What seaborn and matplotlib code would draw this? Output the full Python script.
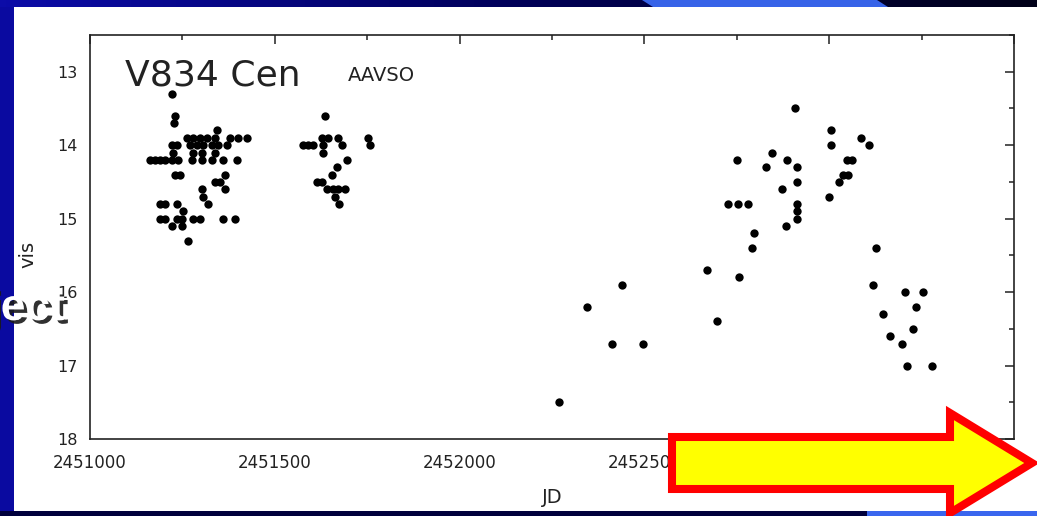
import numpy as np
import pandas as pd
import matplotlib
matplotlib.use("Agg")
import matplotlib.pyplot as plt
import matplotlib.patheffects as pe
from matplotlib import font_manager
from matplotlib.patches import Rectangle, Polygon
from matplotlib.colors import LinearSegmentedColormap
from matplotlib.ticker import MultipleLocator
import seaborn as sns

# ---- AAVSO visual estimates of V834 Cen, grouped by observing season ----
jd_s1 = [2451221, 2451230, 2451228, 2451343,
         2451262, 2451280, 2451298, 2451316, 2451338, 2451379, 2451401, 2451424,
         2451221, 2451235, 2451271, 2451289, 2451307, 2451329, 2451347, 2451370,
         2451225, 2451280, 2451302, 2451338,
         2451162, 2451176, 2451189, 2451203, 2451221, 2451239, 2451275, 2451302,
         2451329, 2451361, 2451397,
         2451230, 2451244, 2451365,
         2451338, 2451352,
         2451302, 2451365,
         2451307,
         2451189, 2451203, 2451235, 2451320,
         2451252,
         2451189, 2451203, 2451235, 2451248, 2451280, 2451298, 2451361, 2451392,
         2451221, 2451248,
         2451266]
vis_s1 = [13.3, 13.6, 13.7, 13.8,
          13.9, 13.9, 13.9, 13.9, 13.9, 13.9, 13.9, 13.9,
          14.0, 14.0, 14.0, 14.0, 14.0, 14.0, 14.0, 14.0,
          14.1, 14.1, 14.1, 14.1,
          14.2, 14.2, 14.2, 14.2, 14.2, 14.2, 14.2, 14.2,
          14.2, 14.2, 14.2,
          14.4, 14.4, 14.4,
          14.5, 14.5,
          14.6, 14.6,
          14.7,
          14.8, 14.8, 14.8, 14.8,
          14.9,
          15.0, 15.0, 15.0, 15.0, 15.0, 15.0, 15.0, 15.0,
          15.1, 15.1,
          15.3]

jd_s2 = [2451636,
         2451627, 2451645, 2451672, 2451753,
         2451577, 2451591, 2451604, 2451631, 2451681, 2451758,
         2451631, 2451694, 2451667, 2451654,
         2451613, 2451627,
         2451640, 2451658, 2451672, 2451690,
         2451663, 2451674]
vis_s2 = [13.6,
          13.9, 13.9, 13.9, 13.9,
          14.0, 14.0, 14.0, 14.0, 14.0, 14.0,
          14.1, 14.2, 14.3, 14.4,
          14.5, 14.5,
          14.6, 14.6, 14.6, 14.6,
          14.7, 14.8]

jd_s3 = [2452268, 2452346, 2452412, 2452439, 2452495]
vis_s3 = [17.5, 16.2, 16.7, 15.9, 16.7]

jd_s4 = [2452907, 2452844, 2452750, 2452887, 2452828, 2452912, 2452912, 2452873,
         2452727, 2452754, 2452781, 2452912, 2452912, 2452912, 2452883, 2452797,
         2452790, 2452670, 2452756, 2452696]
vis_s4 = [13.5, 14.1, 14.2, 14.2, 14.3, 14.3, 14.5, 14.6,
          14.8, 14.8, 14.8, 14.8, 14.9, 15.0, 15.1, 15.2,
          15.4, 15.7, 15.8, 16.4]

jd_s5 = [2453004, 2453004, 2453086, 2453108, 2453049, 2453061, 2453038, 2453052,
         2453027, 2452999, 2453127, 2453118, 2453205, 2453255, 2453235, 2453145,
         2453226, 2453164, 2453198, 2453211, 2453277]
vis_s5 = [13.8, 14.0, 13.9, 14.0, 14.2, 14.2, 14.4, 14.4,
          14.5, 14.7, 15.4, 15.9, 16.0, 16.0, 16.2, 16.3,
          16.5, 16.6, 16.7, 17.0, 17.0]

jd_ticks = [2451000, 2451500, 2452000, 2452500, 2453000, 2453500]
jd_tick_labels = ["2451000", "2451500", "2452000", "2452500", "2453000", ""]
vis_ticks = [13, 14, 15, 16, 17, 18]
vis_tick_labels = ["13", "14", "15", "16", "17", "18"]

df = pd.DataFrame({
    "JD": jd_s1 + jd_s2 + jd_s3 + jd_s4 + jd_s5,
    "vis": vis_s1 + vis_s2 + vis_s3 + vis_s4 + vis_s5,
})

sns.set_theme(style="white")
plt.rcParams["font.family"] = ["DejaVu Sans"]

W, H = 1037, 516
fig = plt.figure(figsize=(W / 100, H / 100), dpi=100)
fig.patch.set_facecolor("#0a0aa0")

# ---- slide background (pixel coordinates) ----
bg = fig.add_axes([0, 0, 1, 1], zorder=0)
bg.axis("off")
top_cmap = LinearSegmentedColormap.from_list("top", ["#0c0ca8", "#000058", "#000018"])
bg.imshow(np.linspace(0, 1, 256)[None, :], extent=(0, W, 7, 0),
          cmap=top_cmap, aspect="auto", interpolation="bilinear")
bg.add_patch(Polygon([(642, 0), (877, 0), (888, 7), (653, 7)],
                     closed=True, facecolor="#3763e8", edgecolor="none"))
bg.add_patch(Rectangle((14, 7), W - 14, 504, facecolor="white", edgecolor="none"))
bg.add_patch(Rectangle((0, 511), W, 6, facecolor="#00003c", edgecolor="none"))
bg.add_patch(Rectangle((867, 511), W - 867, 6, facecolor="#3a66ee", edgecolor="none"))
bg.set_xlim(0, W)
bg.set_ylim(H, 0)

# ---- light curve ----
ax = fig.add_axes([90 / W, 1 - 439 / H, 924 / W, 404 / H], zorder=1)
ax.set_facecolor("white")
sns.scatterplot(data=df, x="JD", y="vis", color="black", s=36,
                linewidth=0, ax=ax, legend=False)
ax.set_xlim(2451000, 2453500)
ax.set_ylim(18, 12.5)
ax.set_xticks(jd_ticks, jd_tick_labels)
ax.set_yticks(vis_ticks, vis_tick_labels)
ax.xaxis.set_minor_locator(MultipleLocator(250))
ax.yaxis.set_minor_locator(MultipleLocator(0.5))
ax.tick_params(which="both", direction="in", top=True, right=True,
               color="#222222", width=1.1)
ax.tick_params(which="major", length=6.5)
ax.tick_params(which="minor", length=3.5)
ax.tick_params(axis="x", which="major", pad=10.5, labelsize=12, labelcolor="#222222")
ax.tick_params(axis="y", which="major", pad=9, labelsize=11.5, labelcolor="#222222")
for sp in ax.spines.values():
    sp.set_color("#222222")
    sp.set_linewidth(1.2)

ax.set_xlabel("JD", fontsize=14, color="#222222", labelpad=12)
ax.set_ylabel("vis", fontsize=14, color="#222222")
ax.yaxis.set_label_coords(-0.057, 0.458)

ax.text(0.038, 0.876, "V834 Cen", transform=ax.transAxes, fontsize=26,
        color="#222222", va="baseline", ha="left")
ax.text(0.279, 0.885, "AAVSO", transform=ax.transAxes, fontsize=14,
        color="#222222", va="baseline", ha="left")

# ---- slide overlay: title fragment and arrow ----
ov = fig.add_axes([0, 0, 1, 1], zorder=3)
ov.axis("off")
ov.set_xlim(0, W)
ov.set_ylim(H, 0)

available = {f.name for f in font_manager.fontManager.ttflist}
if "Liberation Sans Narrow" in available:
    title_family, title_size = "Liberation Sans Narrow", 39
else:
    title_family, title_size = "Liberation Sans", 32
ov.text(65, 320, "ject", fontsize=title_size, fontweight="bold", family=title_family,
        color="white", ha="right", va="baseline",
        path_effects=[pe.withSimplePatchShadow(offset=(2.5, -2.5),
                                               shadow_rgbFace="#1a1a1a", alpha=0.9)])

ov.add_patch(Polygon([(672, 437), (950, 437), (950, 413), (1032, 463),
                      (950, 513), (950, 489), (672, 489)],
                     closed=True, facecolor="#ffff00", edgecolor="#ff0000",
                     linewidth=5.8, joinstyle="miter"))

fig.savefig("out.png", dpi=100, facecolor=fig.get_facecolor())
